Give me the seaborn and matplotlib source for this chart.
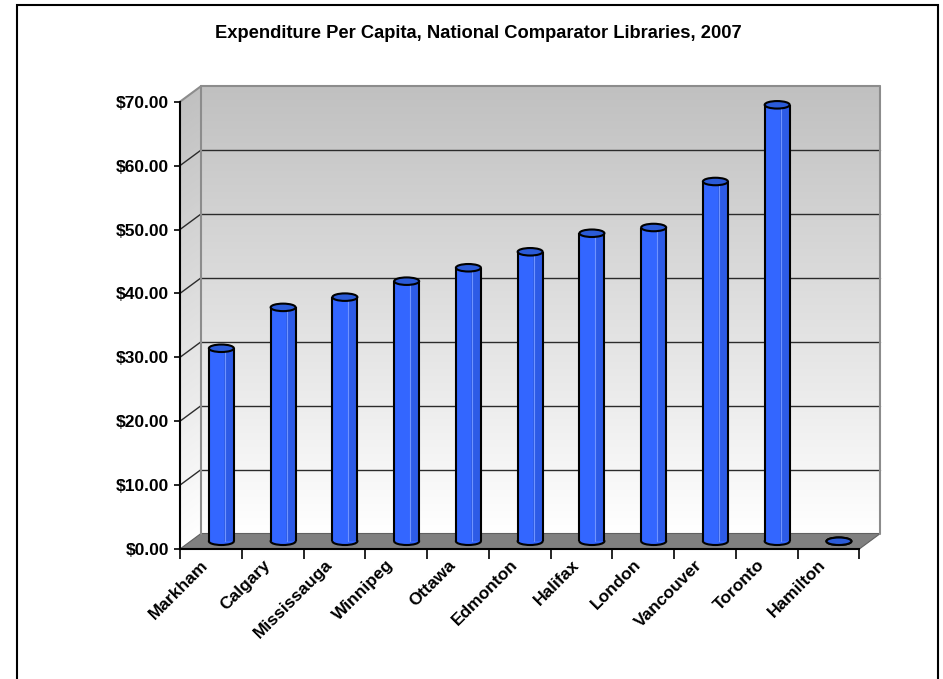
import matplotlib
matplotlib.use("Agg")
import matplotlib.pyplot as plt
import matplotlib.transforms as mtransforms
import numpy as np
import pandas as pd
import seaborn as sns
from matplotlib.patches import Polygon, Ellipse, Rectangle
from matplotlib.colors import LinearSegmentedColormap

# Expenditure per capita (CAD), 2007
libraries = ["Markham", "Calgary", "Mississauga", "Winnipeg", "Ottawa", "Edmonton",
             "Halifax", "London", "Vancouver", "Toronto", "Hamilton"]
expenditure = [30.2, 36.6, 38.2, 40.7, 42.8, 45.3, 48.2, 49.1, 56.3, 68.3, 0.0]
y_ticks = [0, 10, 20, 30, 40, 50, 60, 70]
title = "Expenditure Per Capita, National Comparator Libraries, 2007"

df = pd.DataFrame({"library": libraries, "expenditure": expenditure})

sns.set_theme(style="white")
plt.rcParams["font.family"] = ["Liberation Sans", "DejaVu Sans"]
plt.rcParams["font.weight"] = "bold"
plt.rcParams["text.color"] = "black"
plt.rcParams["xtick.color"] = "black"
plt.rcParams["ytick.color"] = "black"
plt.rcParams["xtick.labelcolor"] = "black"
plt.rcParams["ytick.labelcolor"] = "black"

W, H = 943, 679
fig = plt.figure(figsize=(W / 100, H / 100), dpi=100)
fig.patch.set_facecolor("white")

# front plane of the pseudo-3D plot area (pixel placement)
x0, x1 = 180, 859.3
y_bot, y_top = 549, 101.7
ax = fig.add_axes([x0 / W, 1 - y_bot / H, (x1 - x0) / W, (y_bot - y_top) / H])
n = len(libraries)
ax.set_facecolor("none")

px_x = (x1 - x0) / n          # pixels per category
px_y = (y_bot - y_top) / 70   # pixels per dollar
dx = 21 / px_x                # depth offset in data units
dy = 15.5 / px_y

wall_cmap = LinearSegmentedColormap.from_list("wall", ["#ffffff", "#c0c0c0"])

# back wall
bx0, bx1 = -0.5 + dx, n - 0.5 + dx
by0, by1 = dy, 70 + dy
grad = np.linspace(0, 1, 256).reshape(-1, 1)
ax.imshow(grad, cmap=wall_cmap, origin="lower", aspect="auto",
          extent=(bx0, bx1, by0, by1), zorder=0, clip_on=False)

# left side wall, shaded in thin strips
n_strips = 120
for k in range(n_strips):
    t0, t1 = k / n_strips, (k + 1) / n_strips
    ya, yb_ = 70 * t0, 70 * t1
    c = wall_cmap((t0 + t1) / 2)
    ax.add_patch(Polygon([(-0.5, ya), (bx0, ya + dy), (bx0, yb_ + dy), (-0.5, yb_)],
                         closed=True, facecolor=c, edgecolor=c, lw=0.6,
                         zorder=0.5, clip_on=False))

# floor
ax.add_patch(Polygon([(-0.5, 0), (bx0, by0), (bx1, by0), (n - 0.5, 0)], closed=True,
                     facecolor="#808080", edgecolor="#606060", lw=0.8, zorder=1,
                     clip_on=False))

# gridlines on back and side walls
for v in y_ticks[1:-1]:
    ax.plot([bx0, bx1], [v + dy, v + dy], color="#2b2b2b", lw=1.0, zorder=1,
            clip_on=False)
    ax.plot([-0.5, bx0], [v, v + dy], color="#2b2b2b", lw=1.0, zorder=1,
            clip_on=False)
# wall borders
ax.plot([bx0, bx1, bx1], [by1, by1, by0], color="#8c8c8c", lw=1.5, zorder=1,
        clip_on=False)
ax.plot([bx0, bx0], [by0, by1], color="#8c8c8c", lw=1.5, zorder=1, clip_on=False)
ax.plot([-0.5, bx0], [70, by1], color="#8c8c8c", lw=1.5, zorder=1, clip_on=False)

# cylinders
bar_w = 25 / px_x
sns.barplot(data=df, x="library", y="expenditure", ax=ax, color="#3366ff",
            saturation=1, width=bar_w, linewidth=0, zorder=3)
ax.set_xlim(-0.5, n - 0.5)
ax.set_ylim(0, 70)

ell_h = 7.5 / px_y
bars = [p for p in ax.patches if isinstance(p, Rectangle) and p.get_zorder() == 3]
for i, (bar, val) in enumerate(zip(bars, expenditure)):
    xc = i + dx / 2
    yb = dy / 2
    bar.set_x(xc - bar_w / 2)
    bar.set_y(yb)
    bar.set_height(val)
    bar.set_clip_on(False)
    # rounded bottom
    ax.add_patch(Ellipse((xc, yb), bar_w, ell_h, facecolor="#3366ff",
                         edgecolor="black", lw=1.5, zorder=2.9, clip_on=False))
    if val > 0:
        # darker right-hand shading with a soft highlight line
        ax.add_patch(Rectangle((xc + bar_w * 0.12, yb), bar_w * 0.38, val,
                               facecolor="#2d5be6", edgecolor="none", zorder=3.1,
                               clip_on=False))
        ax.plot([xc + bar_w * 0.14] * 2, [yb, yb + val], color="#6f93ff", lw=0.8,
                zorder=3.2, clip_on=False)
        ax.plot([xc - bar_w / 2] * 2, [yb, yb + val], color="black", lw=1.5,
                zorder=3.3, clip_on=False, solid_capstyle="butt")
        ax.plot([xc + bar_w / 2] * 2, [yb, yb + val], color="black", lw=1.5,
                zorder=3.3, clip_on=False, solid_capstyle="butt")
    # top cap
    ax.add_patch(Ellipse((xc, yb + val), bar_w, ell_h, facecolor="#2b5bd8",
                         edgecolor="black", lw=1.5, zorder=3.5, clip_on=False))

# axes, ticks and labels
for s in ["top", "right"]:
    ax.spines[s].set_visible(False)
for s in ["left", "bottom"]:
    ax.spines[s].set_visible(True)
    ax.spines[s].set_color("black")
    ax.spines[s].set_linewidth(1.5)
    ax.spines[s].set_zorder(4)

ax.set_yticks(y_ticks)
ax.set_yticklabels([f"${v:.2f}" for v in y_ticks], fontsize=12.5, fontweight="bold",
                   color="black")
ax.tick_params(axis="y", direction="out", length=4, width=1.2, color="black",
               pad=4, left=True)

ax.set_xticks(range(n))
ax.set_xticklabels(libraries, rotation=45, ha="right", va="top",
                   rotation_mode="anchor", fontsize=12.5, fontweight="bold",
                   color="black")
ax.set_xticks(np.arange(-0.5, n, 1.0), minor=True)
ax.tick_params(axis="x", which="major", length=0, pad=8)
ax.tick_params(axis="x", which="minor", direction="out", length=7, width=1.2,
               color="black", bottom=True)
shift = mtransforms.ScaledTranslation(-0.10, 0.03, fig.dpi_scale_trans)
for lab in ax.get_xticklabels():
    lab.set_transform(lab.get_transform() + shift)
ax.set_xlabel("")
ax.set_ylabel("")
ax.grid(False)

fig.text(478 / W, 1 - 33 / H, title, ha="center", va="center", fontsize=13.2,
         fontweight="bold", color="black")

# chart frame
fig.add_artist(Rectangle((17 / W, -0.02), (938 - 17) / W, 1 - 5 / H + 0.02,
                         transform=fig.transFigure, facecolor="none",
                         edgecolor="black", lw=1.5))

fig.savefig("out.png", dpi=100, facecolor="white")
